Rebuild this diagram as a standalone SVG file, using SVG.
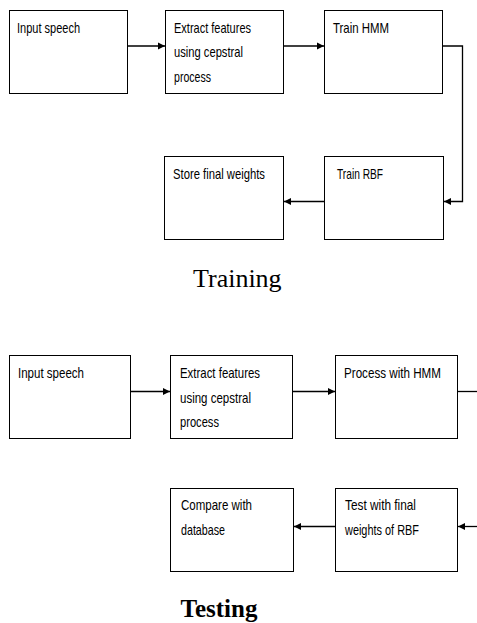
<svg xmlns="http://www.w3.org/2000/svg" width="477" height="623" viewBox="0 0 477 623">
<style>
.box{fill:#fff;stroke:#000;stroke-width:1}
.t{font-family:"Liberation Sans",Arial,sans-serif;font-size:15px;fill:#000}
.c{fill:none;stroke:#000;stroke-width:1.3}
.title{font-family:"Liberation Serif","Times New Roman",serif;fill:#000}
</style>
<defs>
<marker id="ah" markerWidth="8" markerHeight="8" refX="7" refY="4" orient="auto" markerUnits="userSpaceOnUse">
<path d="M0,0.5 L7,4 L0,7.5 Z" fill="#000"/>
</marker>
</defs>
<rect width="477" height="623" fill="#fff"/>
<g id="n1"><rect class="box" x="9.5" y="10.5" width="118" height="83"/><text class="t" x="17" y="33" textLength="63" lengthAdjust="spacingAndGlyphs">Input speech</text></g>
<g id="n2"><rect class="box" x="165.5" y="10.5" width="118" height="83"/><text class="t" x="174" y="33" textLength="77" lengthAdjust="spacingAndGlyphs">Extract features</text><text class="t" x="174" y="57" textLength="69" lengthAdjust="spacingAndGlyphs">using cepstral</text><text class="t" x="174" y="82" textLength="37" lengthAdjust="spacingAndGlyphs">process</text></g>
<g id="n3"><rect class="box" x="324.5" y="10.5" width="118" height="83"/><text class="t" x="333" y="33" textLength="56" lengthAdjust="spacingAndGlyphs">Train HMM</text></g>
<g id="n4"><rect class="box" x="164.5" y="156.5" width="119" height="83"/><text class="t" x="173" y="179" textLength="92" lengthAdjust="spacingAndGlyphs">Store final weights</text></g>
<g id="n5"><rect class="box" x="324.5" y="156.5" width="119" height="83"/><text class="t" x="337" y="179" textLength="46" lengthAdjust="spacingAndGlyphs">Train RBF</text></g>
<text class="title" x="193" y="287" font-size="26">Training</text>
<g id="m1"><rect class="box" x="9.5" y="355.5" width="121" height="83"/><text class="t" x="18" y="378" textLength="66" lengthAdjust="spacingAndGlyphs">Input speech</text></g>
<g id="m2"><rect class="box" x="170.5" y="355.5" width="122" height="83"/><text class="t" x="180" y="378" textLength="80" lengthAdjust="spacingAndGlyphs">Extract features</text><text class="t" x="180" y="403" textLength="71" lengthAdjust="spacingAndGlyphs">using cepstral</text><text class="t" x="180" y="427" textLength="39" lengthAdjust="spacingAndGlyphs">process</text></g>
<g id="m3"><rect class="box" x="335.5" y="355.5" width="122" height="83"/><text class="t" x="344" y="378" textLength="97" lengthAdjust="spacingAndGlyphs">Process with HMM</text></g>
<g id="m4"><rect class="box" x="170.5" y="488.5" width="123" height="83"/><text class="t" x="181" y="510" textLength="71" lengthAdjust="spacingAndGlyphs">Compare with</text><text class="t" x="181" y="535" textLength="44" lengthAdjust="spacingAndGlyphs">database</text></g>
<g id="m5"><rect class="box" x="335.5" y="488.5" width="122" height="83"/><text class="t" x="345" y="510" textLength="71" lengthAdjust="spacingAndGlyphs">Test with final</text><text class="t" x="345" y="535" textLength="74" lengthAdjust="spacingAndGlyphs">weights of RBF</text></g>
<text class="title" x="180.5" y="617" font-size="25" font-weight="bold">Testing</text>
<g id="connectors">
<line class="c" x1="127.5" y1="46" x2="165" y2="46" marker-end="url(#ah)"/>
<line class="c" x1="283.5" y1="46" x2="324" y2="46" marker-end="url(#ah)"/>
<polyline class="c" points="442.5,46 462.5,46 462.5,201.5 444,201.5" marker-end="url(#ah)"/>
<line class="c" x1="324.5" y1="201.5" x2="284" y2="201.5" marker-end="url(#ah)"/>
<line class="c" x1="130.5" y1="391.5" x2="170" y2="391.5" marker-end="url(#ah)"/>
<line class="c" x1="292.5" y1="391.5" x2="335" y2="391.5" marker-end="url(#ah)"/>
<line class="c" x1="457.5" y1="391.5" x2="477" y2="391.5"/>
<line class="c" x1="477" y1="526.5" x2="458" y2="526.5" marker-end="url(#ah)"/>
<line class="c" x1="335.5" y1="526.5" x2="294" y2="526.5" marker-end="url(#ah)"/>
</g>
</svg>
